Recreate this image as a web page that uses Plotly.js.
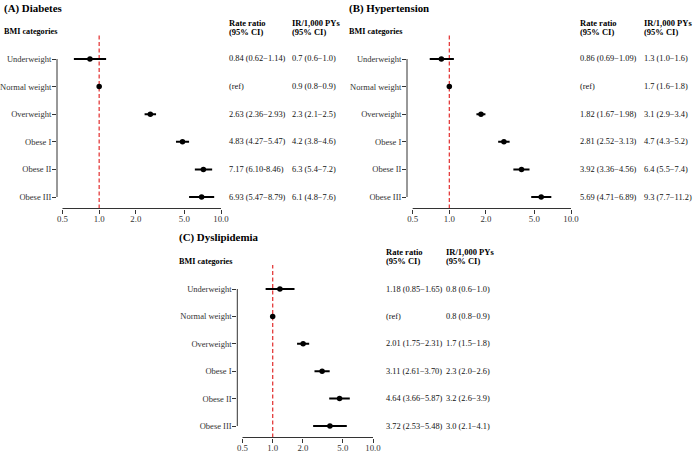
<!DOCTYPE html>
<html><head><meta charset="utf-8">
<script src="https://cdn.plot.ly/plotly-3.0.1.min.js"></script>
<style>html,body{margin:0;padding:0;background:#fff}</style>
</head><body><div id="chart" style="width:693px;height:455px"></div>
<script>
// ---------- DATA ----------
const categories = ["Underweight","Normal weight","Overweight","Obese I","Obese II","Obese III"];
const xTickVals = [0.5, 1, 2, 5, 10];
const xTickText = ["0.5","1.0","2.0","5.0","10.0"];
const refValue = 1;

const panelTitles = ["(A) Diabetes", "(B) Hypertension", "(C) Dyslipidemia"];
const rowHeader = "BMI categories";
const rrHeader = ["Rate ratio", "(95% CI)"];
const irHeader = ["IR/1,000 PYs", "(95% CI)"];

const diabetesRR = [0.84, 1, 2.63, 4.83, 7.17, 6.93];
const diabetesLo = [0.62, 1, 2.36, 4.27, 6.10, 5.47];
const diabetesHi = [1.14, 1, 2.93, 5.47, 8.46, 8.79];
const diabetesRRText = ["0.84 (0.62−1.14)","(ref)","2.63 (2.36−2.93)","4.83 (4.27−5.47)","7.17 (6.10-8.46)","6.93 (5.47−8.79)"];
const diabetesIRText = ["0.7 (0.6−1.0)","0.9 (0.8−0.9)","2.3 (2.1−2.5)","4.2 (3.8−4.6)","6.3 (5.4−7.2)","6.1 (4.8−7.6)"];

const hypertensionRR = [0.86, 1, 1.82, 2.81, 3.92, 5.69];
const hypertensionLo = [0.69, 1, 1.67, 2.52, 3.36, 4.71];
const hypertensionHi = [1.09, 1, 1.98, 3.13, 4.56, 6.89];
const hypertensionRRText = ["0.86 (0.69−1.09)","(ref)","1.82 (1.67−1.98)","2.81 (2.52−3.13)","3.92 (3.36−4.56)","5.69 (4.71−6.89)"];
const hypertensionIRText = ["1.3 (1.0−1.6)","1.7 (1.6−1.8)","3.1 (2.9−3.4)","4.7 (4.3−5.2)","6.4 (5.5−7.4)","9.3 (7.7−11.2)"];

const dyslipidemiaRR = [1.18, 1, 2.01, 3.11, 4.64, 3.72];
const dyslipidemiaLo = [0.85, 1, 1.75, 2.61, 3.66, 2.53];
const dyslipidemiaHi = [1.65, 1, 2.31, 3.70, 5.87, 5.48];
const dyslipidemiaRRText = ["1.18 (0.85−1.65)","(ref)","2.01 (1.75−2.31)","3.11 (2.61−3.70)","4.64 (3.66−5.87)","3.72 (2.53−5.48)"];
const dyslipidemiaIRText = ["0.8 (0.6−1.0)","0.8 (0.8−0.9)","1.7 (1.5−1.8)","2.3 (2.0−2.6)","3.2 (2.6−3.9)","3.0 (2.1−4.1)"];

// ---------- LAYOUT (pixel geometry) ----------
const W = 693, H = 455;
const FONT = "'Liberation Serif', 'Times New Roman', serif";
const panels = [
  {rr: diabetesRR, lo: diabetesLo, hi: diabetesHi, rrText: diabetesRRText, irText: diabetesIRText,
   p05: 62.5, p10: 221, left: 57, right: 224, top: 33, row0: 59, row5: 197, axis: 208.5,
   rrX: 227, irX: 289.5, titleX: 2, titleY: 8, bmiX: 2, bmiY: 32, headY1: 23, headY2: 32},
  {rr: hypertensionRR, lo: hypertensionLo, hi: hypertensionHi, rrText: hypertensionRRText, irText: hypertensionIRText,
   p05: 412.7, p10: 571, left: 407, right: 574, top: 33, row0: 59, row5: 197, axis: 208.5,
   rrX: 578, irX: 642, titleX: 347, titleY: 8, bmiX: 347, bmiY: 32, headY1: 23, headY2: 32},
  {rr: dyslipidemiaRR, lo: dyslipidemiaLo, hi: dyslipidemiaHi, rrText: dyslipidemiaRRText, irText: dyslipidemiaIRText,
   p05: 242.5, p10: 373, left: 237.3, right: 376, top: 265, row0: 289, row5: 426, axis: 437.5,
   rrX: 383.5, irX: 443.5, titleX: 177, titleY: 237, bmiX: 177, bmiY: 261, headY1: 252, headY2: 261}
];

const px = x => x / W;
const py = y => 1 - y / H;

const traces = [];
const layout = {
  width: W, height: H, margin: {l:0, r:0, t:0, b:0},
  paper_bgcolor: "#fff", plot_bgcolor: "rgba(0,0,0,0)",
  showlegend: false, shapes: [], annotations: [],
  font: {family: FONT, color: "#000"}
};

panels.forEach((p, i) => {
  const sfx = i === 0 ? "" : String(i + 1);
  const xa = "xaxis" + sfx, ya = "yaxis" + sfx;
  const xr = "x" + sfx, yr = "y" + sfx;
  const nLast = categories.length - 1;
  const lx0 = Math.log10(xTickVals[0]), lx1 = Math.log10(xTickVals[xTickVals.length - 1]);
  const ppd = (p.p10 - p.p05) / (lx1 - lx0);
  const sp = (p.row5 - p.row0) / nLast;

  traces.push({
    type: "scatter", mode: "markers", x: p.rr, y: categories,
    xaxis: xr, yaxis: yr, cliponaxis: false,
    marker: {color: "#000", size: 5.5},
    error_x: {type: "data", symmetric: false,
      array: p.hi.map((h, k) => h - p.rr[k]),
      arrayminus: p.lo.map((l, k) => p.rr[k] - l),
      width: 0, thickness: 2, color: "#000"},
    hoverinfo: "skip"
  });

  layout[xa] = {
    type: "log", domain: [px(p.left), px(p.right)],
    range: [lx0 - (p.p05 - p.left) / ppd, lx1 + (p.right - p.p10) / ppd],
    tickmode: "array", tickvals: xTickVals, ticktext: xTickText,
    ticks: "outside", ticklen: 4, tickwidth: 1, tickcolor: "#333",
    ticklabelstandoff: -2,
    showline: false, showgrid: false, zeroline: false, anchor: yr,
    tickfont: {family: FONT, size: 8.8, color: "#333"}, fixedrange: true
  };
  layout[ya] = {
    type: "category", categoryorder: "array", categoryarray: categories,
    domain: [py(p.axis), py(p.top)],
    range: [nLast + (p.axis - p.row5) / sp, -(p.row0 - p.top) / sp],
    ticks: "outside", ticklen: 4, tickwidth: 1, tickcolor: "#333",
    ticklabelstandoff: -1,
    showline: false, showgrid: false, zeroline: false, anchor: xr,
    tickfont: {family: FONT, size: 8.5, color: "#333"}, fixedrange: true
  };

  // capped axis lines
  layout.shapes.push({type: "line", xref: xr + " domain", yref: yr, x0: 0, x1: 0, y0: 0, y1: nLast,
    line: {color: "#333", width: 1}});
  layout.shapes.push({type: "line", xref: xr, yref: yr + " domain",
    x0: xTickVals[0], x1: xTickVals[xTickVals.length - 1], y0: 0, y1: 0,
    line: {color: "#333", width: 1}});
  // reference line
  layout.shapes.push({type: "line", xref: xr, yref: yr + " domain", x0: refValue, x1: refValue, y0: 0, y1: 1,
    line: {color: "rgb(228,60,60)", width: 1.3, dash: "4px,2.5px"}, layer: "below"});

  // titles / headers
  const ann = (text, x, y, size, bold) => layout.annotations.push({
    text: bold ? "<b>" + text + "</b>" : text, xref: "paper", yref: "paper",
    x: px(x), y: py(y), xanchor: "left", yanchor: "middle", showarrow: false,
    font: {family: FONT, size: size, color: "#000"}
  });
  ann(panelTitles[i], p.titleX, p.titleY, 10.9, true);
  ann(rowHeader, p.bmiX, p.bmiY, 8.2, true);
  ann(rrHeader[0], p.rrX, p.headY1, 8.5, true);
  ann(rrHeader[1], p.rrX, p.headY2, 8.5, true);
  ann(irHeader[0], p.irX, p.headY1, 8.5, true);
  ann(irHeader[1], p.irX, p.headY2, 8.5, true);

  // value columns
  categories.forEach((c, k) => {
    [[p.rrText[k], p.rrX], [p.irText[k], p.irX]].forEach(([t, x]) => {
      layout.annotations.push({
        text: t, xref: "paper", yref: yr, x: px(x), y: k,
        xanchor: "left", yanchor: "middle", showarrow: false,
        font: {family: FONT, size: 8.4, color: "#111"}
      });
    });
  });
});

Plotly.newPlot("chart", traces, layout, {displayModeBar: false, staticPlot: true});
</script>
</body></html>
